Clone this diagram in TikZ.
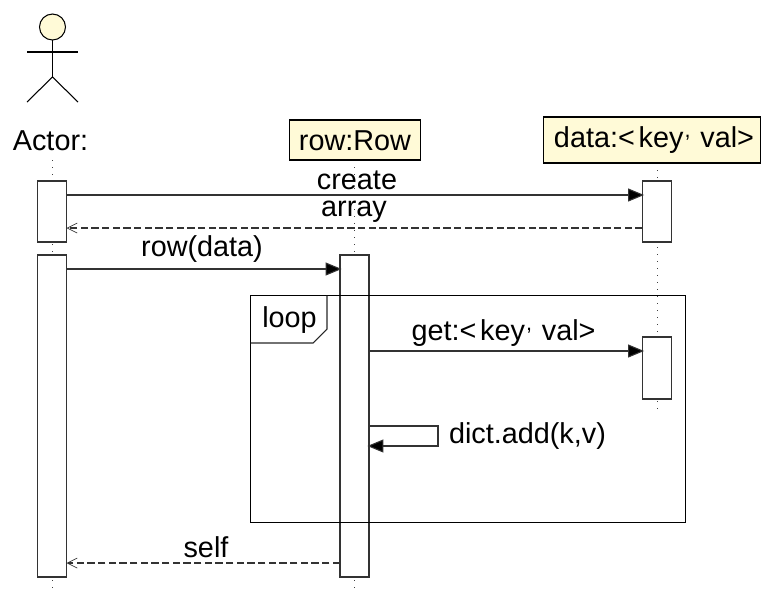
\documentclass[tikz,border=0pt]{standalone}
\usepackage{fontspec}
\setmainfont{Liberation Sans}
\usetikzlibrary{arrows.meta}
\definecolor{classfill}{HTML}{FFFAD7}
\definecolor{msgline}{HTML}{333333}
\newcommand{\cmm}{\kern0.04em\raisebox{0.34em}{\scalebox{0.75}{,}}\kern0.34em}
\tikzset{
  txt/.style={font=\fontsize{21.6pt}{25pt}\selectfont, text=black, inner sep=0pt, outer sep=0pt, anchor=base},
  objbox/.style={draw=black, line width=0.8pt, fill=classfill, inner sep=0pt, outer sep=0pt, anchor=north west},
  actbox/.style={draw=black!80, line width=0.8pt, fill=white, inner sep=0pt, outer sep=0pt, minimum width=21.75pt, anchor=north},
  lifeline/.style={line width=0.75pt, black!75, dash pattern=on 0.75pt off 4.5pt},
  syncmsg/.style={draw=msgline, line width=0.8pt, shorten >=-1.2pt, -{Triangle[length=12pt,width=9.75pt,fill=black]}},
  retmsg/.style={draw=msgline, line width=0.8pt, dash pattern=on 5.5pt off 2.5pt, -{Straight Barb[length=7.5pt,width=7.5pt,line width=0.5pt]}},
  framebox/.style={draw=black, line width=0.8pt, inner sep=0pt, outer sep=0pt}
}
\begin{document}
\begin{tikzpicture}[x=0.75pt,y=-0.75pt]
\useasboundingbox (0,0) rectangle (761,590);
% message levels
\coordinate (ycreate) at (0,195);
\coordinate (yarray) at (0,228);
\coordinate (yrow) at (0,269);
\coordinate (yget) at (0,351);
\coordinate (yselfa) at (0,426);
\coordinate (yselfb) at (0,446);
\coordinate (yret) at (0,563);
\coordinate (xself) at (438,0);
% lifeline ends
\coordinate (la0) at (52,160);
\coordinate (la1) at (52,591);
\coordinate (lr0) at (354.5,160);
\coordinate (lr1) at (354.5,591);
\coordinate (ld0) at (657,163);
\coordinate (ld1) at (657,414);
\draw[lifeline] (la0) -- (la1);
\draw[lifeline] (lr0) -- (lr1);
\draw[lifeline] (ld0) -- (ld1);
% actor
\node[draw=black, line width=0.8pt, fill=classfill, circle, inner sep=0pt, outer sep=0pt, minimum size=19.5pt] (head) at (52.5,27) {};
\coordinate (neck) at (52.5,77);
\coordinate (armL) at (27,52);
\coordinate (armR) at (78,52);
\coordinate (footL) at (27,102);
\coordinate (footR) at (78,102);
\draw[line width=0.8pt] (head.south) -- (neck);
\draw[line width=0.8pt] (armL) -- (armR);
\draw[line width=0.8pt] (footL) -- (neck) -- (footR);
\node[txt] (actor) at (50.5,150) {Actor:};
% objects
\node[objbox, minimum width=98.25pt, minimum height=30pt] (rowobj) at (289.5,120) {};
\node[txt] (rowlabel) at (355,150) {row:Row};
\node[objbox, minimum width=163pt, minimum height=34.5pt] (dataobj) at (543.5,117) {};
\node[txt] (datalabel) at (654,147) {data:<\kern0.13em key\cmm val>};
% activations
\node[actbox, minimum height=45.75pt] (a1) at (52,181) {};
\node[actbox, minimum height=241.5pt] (a2) at (52,255) {};
\node[actbox, minimum height=241.5pt] (r1) at (354.5,255) {};
\node[actbox, minimum height=45.75pt] (d1) at (657,181) {};
\node[actbox, minimum height=46.5pt] (d2) at (657,337) {};
% loop frame
\node[framebox, minimum width=326.25pt, minimum height=170pt, anchor=north west] (frame) at (250.5,295.5) {};
\coordinate (tagA) at (250.5,343);
\coordinate (tagB) at (313,343);
\coordinate (tagC) at (327,329);
\coordinate (tagD) at (327,295.5);
\draw[line width=0.8pt, draw=black!85] (tagA) -- (tagB) -- (tagC) -- (tagD);
\node[txt] (looplabel) at (289.5,327) {loop};
% messages
\draw[syncmsg] (a1.east |- ycreate) -- (d1.west |- ycreate);
\draw[retmsg] (d1.west |- yarray) -- (a1.east |- yarray);
\draw[syncmsg] (a2.east |- yrow) -- (r1.west |- yrow);
\draw[syncmsg] (r1.east |- yget) -- (d2.west |- yget);
\draw[syncmsg] (r1.east |- yselfa) -- (xself |- yselfa) -- (xself |- yselfb) -- (r1.east |- yselfb);
\draw[retmsg] (r1.west |- yret) -- (a2.east |- yret);
% labels
\node[txt] (lcreate) at (357,189.5) {create};
\node[txt] (larray) at (354,216.5) {array};
\node[txt] (lrow) at (202,256) {row(data)};
\node[txt] (lget) at (503.5,340) {get:<\kern0.13em key\cmm val>};
\node[txt, anchor=base west] (ldict) at (449,443) {dict.add(k,v)};
\node[txt] (lself) at (206,557) {self};
\end{tikzpicture}
\end{document}
